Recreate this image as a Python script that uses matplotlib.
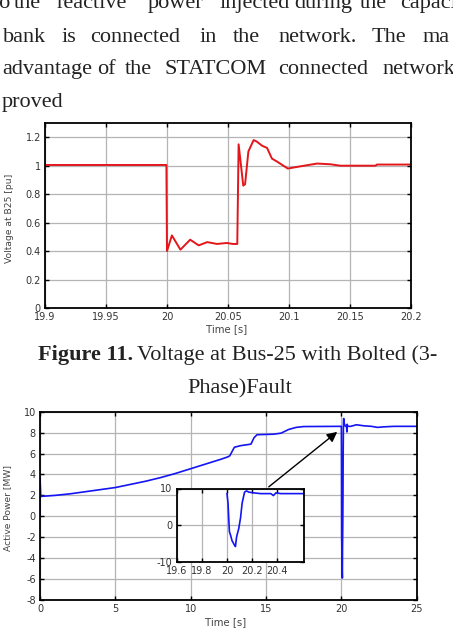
import numpy as np
import matplotlib.pyplot as plt

plt.rcParams['axes.unicode_minus'] = False

# voltage at bus 25 (top plot)
volt_t = [19.9, 19.9995, 20.0, 20.004, 20.011, 20.019, 20.026, 20.033, 20.041, 20.049,
          20.054, 20.0576, 20.0587, 20.0625, 20.064, 20.0667, 20.071, 20.0735, 20.078,
          20.082, 20.086, 20.09, 20.099, 20.109, 20.123, 20.134, 20.142, 20.171, 20.172, 20.2]
volt_v = [1.005, 1.005, 0.40, 0.51, 0.41, 0.48, 0.44, 0.463, 0.45, 0.457,
          0.45, 0.45, 1.15, 0.86, 0.87, 1.10, 1.18, 1.17, 1.14,
          1.125, 1.05, 1.03, 0.98, 0.995, 1.015, 1.01, 1.0, 1.0, 1.008, 1.008]

# active power (bottom plot)
fault_t = [20.0, 20.008, 20.019, 20.03, 20.04, 20.059, 20.067, 20.075, 20.08, 20.093,
           20.107, 20.12, 20.139, 20.155, 20.173, 20.213, 20.267, 20.347, 20.368,
           20.387, 20.427, 20.62]
fault_v = [8.6, 6.0, -1.8, -3.0, -4.3, -5.5, -5.9, -3.5, -2.7, -1.0,
           1.9, 6.0, 9.0, 9.35, 9.0, 8.8, 8.6, 8.6, 8.06,
           8.8, 8.6, 8.6]
power_t = [0, 0, 0.05, 1, 2, 3, 4, 5, 6, 7, 8, 9, 10, 11, 12, 12.5, 12.6, 12.9, 13.3,
           14.0, 14.2, 14.4, 15.5, 16.0, 16.5, 17.0, 17.5, 19.99] + fault_t + \
          [21, 21.5, 22, 22.4, 22.8, 23.5, 25]
power_v = [0, 3.7, 1.9, 2.0, 2.15, 2.35, 2.55, 2.75, 3.05, 3.35, 3.7, 4.1, 4.55, 5.0,
           5.45, 5.7, 5.8, 6.6, 6.75, 6.9, 7.5, 7.8, 7.85, 7.95, 8.3, 8.5, 8.58, 8.6] + fault_v + \
          [8.75, 8.65, 8.6, 8.5, 8.55, 8.6, 8.6]

W, H = 453, 639
def box(l, t, r, b):
    return [l / W, 1 - b / H, (r - l) / W, (b - t) / H]

fig = plt.figure(figsize=(W / 100, H / 100), dpi=100)
serif = 'Liberation Serif'
sans = 'DejaVu Sans'

# body text (justified lines, word by word)
lines = [
    (8, [('to', -6), ('the', 14), ('reactive', 57), ('power', 148), ('injected', 220),
         ('during', 294), ('the', 360), ('capaci', 400)]),
    (41.5, [('bank', 3), ('is', 62), ('connected', 90), ('in', 200), ('the', 233),
            ('network.', 278), ('The', 372), ('ma', 423)]),
    (74, [('advantage', 2), ('of', 97), ('the', 125), ('STATCOM', 165), ('connected', 278),
          ('network', 382)]),
    (107, [('proved', 2)]),
]
for y, words in lines:
    for w, x in words:
        fig.text(x / W, 1 - y / H, w, family=serif, fontsize=16, color='#222222',
                 ha='left', va='baseline')


def style(ax, size=7):
    ax.grid(True, color='#b4b4b4', linewidth=0.9)
    ax.tick_params(direction='in', length=3, width=1, top=True, right=True,
                   labelsize=size, pad=3, labelcolor='#333333')
    for s in ax.spines.values():
        s.set_linewidth(1.3)
    for lab in ax.get_xticklabels() + ax.get_yticklabels():
        lab.set_family(sans)


# top plot
ax1 = fig.add_axes(box(45, 123, 411, 308))
ax1.plot(volt_t, volt_v, color='#e3161b', linewidth=1.4)
ax1.set_xlim(19.9, 20.2)
ax1.set_ylim(0, 1.3)
ax1.set_xticks([19.9, 19.95, 20, 20.05, 20.1, 20.15, 20.2])
ax1.set_xticklabels(['19.9', '19.95', '20', '20.05', '20.1', '20.15', '20.2'])
ax1.set_yticks([0, 0.2, 0.4, 0.6, 0.8, 1.0, 1.2])
ax1.set_yticklabels(['0', '0.2', '0.4', '0.6', '0.8', '1', '1.2'])
style(ax1)
fig.text(227 / W, 1 - 329 / H, 'Time [s]', family=sans, fontsize=7.3, color='#444444',
         ha='center', va='center')
fig.text(10 / W, 1 - 218 / H, 'Voltage at B25 [pu]', family=sans, fontsize=6.6,
         color='#444444', rotation=90, ha='center', va='center')

# caption
fig.text(38 / W, 1 - 360 / H, 'Figure 11.', family=serif, fontsize=16, weight='bold',
         color='#222222', ha='left', va='baseline')
fig.text(137 / W, 1 - 360 / H, 'Voltage at Bus-25 with Bolted (3-', family=serif,
         fontsize=16, color='#222222', ha='left', va='baseline')
fig.text(240 / W, 1 - 393 / H, 'Phase)Fault', family=serif, fontsize=16, color='#222222',
         ha='center', va='baseline')

# bottom plot
ax2 = fig.add_axes(box(40, 411.7, 416.7, 600))
ax2.plot(power_t, power_v, color='#1414f5', linewidth=1.2)
ax2.set_xlim(0, 25)
ax2.set_ylim(-8, 10)
ax2.set_xticks([0, 5, 10, 15, 20, 25])
ax2.set_yticks(np.arange(-8, 11, 2))
style(ax2)
fig.text(226 / W, 1 - 622 / H, 'Time [s]', family=sans, fontsize=7.3, color='#444444',
         ha='center', va='center')
fig.text(8 / W, 1 - 508 / H, 'Active Power [MW]', family=sans, fontsize=6.6,
         color='#444444', rotation=90, ha='center', va='center')
ax2.annotate('', xy=(19.87, 8.24), xytext=(15.04, 2.65),
             arrowprops=dict(arrowstyle='-|>', color='black', lw=1, mutation_scale=15))

# inset
ax3 = fig.add_axes(box(176.5, 488.5, 304, 561.5))
ax3.plot(fault_t, fault_v, color='#1414f5', linewidth=1.2)
ax3.set_xlim(19.6, 20.61)
ax3.set_ylim(-10, 10)
ax3.set_xticks([19.6, 19.8, 20, 20.2, 20.4])
ax3.set_xticklabels(['19.6', '19.8', '20', '20.2', '20.4'])
ax3.set_yticks([-10, 0, 10])
style(ax3, 7)

fig.savefig('out.png', dpi=100)
